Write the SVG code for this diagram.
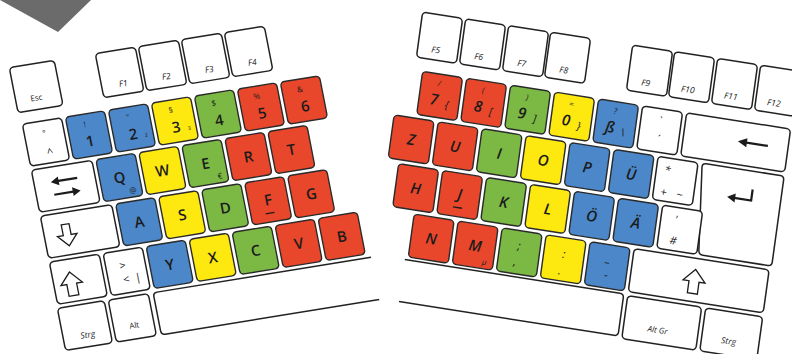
<svg xmlns="http://www.w3.org/2000/svg" width="792" height="354" viewBox="0 0 792 354">
<style>
.k{stroke:#2a2a2a;stroke-width:1.4}
.w{fill:#fff;stroke:#222;stroke-width:1.5}
.b{fill:#4b87c9}
.y{fill:#fde810}
.g{fill:#7cb944}
.r{fill:#e9472c}
text{font-family:"Open Sans","Liberation Sans",sans-serif;fill:#1b1b1b;text-anchor:middle}
.t{font-size:15px;font-weight:600}
.s{font-size:8px}
.m{font-size:11px}
.f{font-size:8.5px;font-style:italic}
.i text{font-style:italic}
.ar{fill:none;stroke:#1b1b1b;stroke-width:2.2}
.ah{fill:#1b1b1b}
.ho{fill:#fff;stroke:#1b1b1b;stroke-width:1.3;stroke-linejoin:miter}
.sp{fill:#fff;stroke:#222;stroke-width:1.5}
.ul{stroke:#1b1b1b;stroke-width:1.3}
</style>
<rect width="792" height="354" fill="#fff"/>
<polygon points="0,0 58,32 91,0" fill="#6b6b6b"/>

<g id="left" transform="matrix(0.977 -0.159 0.1915 0.979 20 122.5)">
 <g id="key-esc"><rect class="w" x="0" y="-56" width="46" height="46" rx="4"/><text class="s" x="21" y="-19">Esc</text></g>
 <g id="key-f1"><rect class="w" x="88" y="-56" width="41" height="45" rx="4"/><text class="f" x="110" y="-19">F1</text></g>
 <g id="key-f2"><rect class="w" x="132" y="-56" width="41" height="45" rx="4"/><text class="f" x="154" y="-19">F2</text></g>
 <g id="key-f3"><rect class="w" x="176" y="-56" width="41" height="45" rx="4"/><text class="f" x="198" y="-19">F3</text></g>
 <g id="key-f4"><rect class="w" x="220" y="-56" width="41" height="45" rx="4"/><text class="f" x="242" y="-19">F4</text></g>

 <g id="key-caret"><rect class="w" x="2" y="2" width="40" height="43" rx="4"/><text class="s" x="22" y="17">°</text><text class="m" x="24" y="38">^</text></g>
 <g id="key-1"><rect class="k b" x="46" y="2" width="40" height="43" rx="4"/><text class="s" x="64" y="15">!</text><text class="t" x="66" y="35">1</text></g>
 <g id="key-2"><rect class="k b" x="90" y="2" width="40" height="43" rx="4"/><text class="s" x="108" y="15">"</text><text class="t" x="110" y="35">2</text><text class="s" x="123" y="38">²</text></g>
 <g id="key-3"><rect class="k y" x="134" y="2" width="40" height="43" rx="4"/><text class="s" x="152" y="15">§</text><text class="t" x="154" y="35">3</text><text class="s" x="167" y="38">³</text></g>
 <g id="key-4"><rect class="k g" x="178" y="2" width="40" height="43" rx="4"/><text class="s" x="196" y="15">$</text><text class="t" x="198" y="35">4</text></g>
 <g id="key-5"><rect class="k r" x="222" y="2" width="40" height="43" rx="4"/><text class="s" x="240" y="15">%</text><text class="t" x="242" y="35">5</text></g>
 <g id="key-6"><rect class="k r" x="266" y="2" width="40" height="43" rx="4"/><text class="s" x="284" y="15">&amp;</text><text class="t" x="286" y="35">6</text></g>

 <g id="key-tab"><rect class="w" x="2" y="49" width="62" height="43" rx="4"/>
  <path class="ar" d="M46,64 H25"/><path class="ah" d="M19,64 L27,59.5 L27,68.5 Z"/>
  <path class="ar" d="M20,77 H41"/><path class="ah" d="M47,77 L39,72.5 L39,81.5 Z"/></g>
 <g id="key-q"><rect class="k b" x="68" y="49" width="40" height="43" rx="4"/><text class="t" x="88" y="76">Q</text><text class="s" x="99" y="88">@</text></g>
 <g id="key-w"><rect class="k y" x="112" y="49" width="40" height="43" rx="4"/><text class="t" x="132" y="76">W</text></g>
 <g id="key-e"><rect class="k g" x="156" y="49" width="40" height="43" rx="4"/><text class="t" x="176" y="76">E</text><text class="s" x="188" y="88">€</text></g>
 <g id="key-r"><rect class="k r" x="200" y="49" width="40" height="43" rx="4"/><text class="t" x="220" y="76">R</text></g>
 <g id="key-t"><rect class="k r" x="244" y="49" width="40" height="43" rx="4"/><text class="t" x="264" y="76">T</text></g>

 <g id="key-caps"><rect class="w" x="2" y="96" width="73" height="43" rx="4"/><path class="ho" d="M21,108 H29 V119 H35 L25,130 L15,119 H21 Z"/></g>
 <g id="key-a"><rect class="k b" x="79" y="96" width="40" height="43" rx="4"/><text class="t" x="99" y="123">A</text></g>
 <g id="key-s"><rect class="k y" x="123" y="96" width="40" height="43" rx="4"/><text class="t" x="143" y="123">S</text></g>
 <g id="key-d"><rect class="k g" x="167" y="96" width="40" height="43" rx="4"/><text class="t" x="187" y="123">D</text></g>
 <g id="key-f"><rect class="k r" x="211" y="96" width="40" height="43" rx="4"/><text class="t" x="231" y="122">F</text><path class="ul" d="M226,130 H235"/></g>
 <g id="key-g"><rect class="k r" x="255" y="96" width="40" height="43" rx="4"/><text class="t" x="275" y="123">G</text></g>

 <g id="key-lshift"><rect class="w" x="2" y="143" width="51" height="43" rx="4"/><path class="ho" d="M20,156 L31,168 H25 V180 H15 V168 H9 Z"/></g>
 <g id="key-lt"><rect class="w" x="57" y="143" width="40" height="43" rx="4"/><text class="m" x="74" y="162">&gt;</text><text class="m" x="75" y="176">&lt;</text><text class="m" x="87" y="176">|</text></g>
 <g id="key-y"><rect class="k b" x="101" y="143" width="40" height="43" rx="4"/><text class="t" x="121" y="170">Y</text></g>
 <g id="key-x"><rect class="k y" x="145" y="143" width="40" height="43" rx="4"/><text class="t" x="165" y="170">X</text></g>
 <g id="key-c"><rect class="k g" x="189" y="143" width="40" height="43" rx="4"/><text class="t" x="209" y="170">C</text></g>
 <g id="key-v"><rect class="k r" x="233" y="143" width="40" height="43" rx="4"/><text class="t" x="253" y="170">V</text></g>
 <g id="key-b"><rect class="k r" x="277" y="143" width="40" height="43" rx="4"/><text class="t" x="297" y="170">B</text></g>

 <g id="key-lstrg"><rect class="w" x="1" y="190" width="48" height="43" rx="4"/><text class="f" x="26" y="224">Strg</text></g>
 <g id="key-alt"><rect class="w" x="53" y="190" width="41" height="43" rx="4"/><text class="s" x="74" y="222">Alt</text></g>
 <g id="key-lspace"><path class="sp" d="M322,190 H103 Q99,190 99,194 V229 Q99,233 103,233 H322"/></g>
</g>

<g id="right" class="i" transform="matrix(1 0.157 -0.138 1 420.9 69)">
 <g id="key-f5"><rect class="w" x="-6" y="-56" width="40" height="45" rx="4"/><text class="f" x="12" y="-18">F5</text></g>
 <g id="key-f6"><rect class="w" x="37" y="-56" width="40" height="45" rx="4"/><text class="f" x="55" y="-18">F6</text></g>
 <g id="key-f7"><rect class="w" x="80" y="-56" width="40" height="45" rx="4"/><text class="f" x="98" y="-18">F7</text></g>
 <g id="key-f8"><rect class="w" x="122" y="-56" width="40" height="45" rx="4"/><text class="f" x="140" y="-18">F8</text></g>
 <g id="key-f9"><rect class="w" x="204" y="-56" width="40" height="45" rx="4"/><text class="f" x="222" y="-18">F9</text></g>
 <g id="key-f10"><rect class="w" x="246" y="-56" width="40" height="45" rx="4"/><text class="f" x="264" y="-18">F10</text></g>
 <g id="key-f11"><rect class="w" x="289" y="-56" width="40" height="45" rx="4"/><text class="f" x="307" y="-18">F11</text></g>
 <g id="key-f12"><rect class="w" x="332" y="-56" width="40" height="45" rx="4"/><text class="f" x="350" y="-18">F12</text></g>

 <g id="key-7"><rect class="k r" x="2" y="2" width="40" height="43" rx="4"/><text class="s" x="20" y="14">/</text><text class="t" x="17" y="33">7</text><text class="m" x="30" y="35">{</text></g>
 <g id="key-8"><rect class="k r" x="46" y="2" width="40" height="43" rx="4"/><text class="s" x="64" y="14">(</text><text class="t" x="61" y="33">8</text><text class="m" x="74" y="35">[</text></g>
 <g id="key-9"><rect class="k g" x="90" y="2" width="40" height="43" rx="4"/><text class="s" x="108" y="14">)</text><text class="t" x="105" y="33">9</text><text class="m" x="118" y="35">]</text></g>
 <g id="key-0"><rect class="k y" x="134" y="2" width="40" height="43" rx="4"/><text class="s" x="152" y="14">=</text><text class="t" x="149" y="33">0</text><text class="m" x="162" y="35">}</text></g>
 <g id="key-sz"><rect class="k b" x="178" y="2" width="40" height="43" rx="4"/><text class="s" x="196" y="14">?</text><text class="t" x="193" y="33">ß</text><text class="m" x="206" y="35">\</text></g>
 <g id="key-acute"><rect class="w" x="222" y="2" width="40" height="43" rx="4"/><text class="m" x="241" y="18">`</text><text class="m" x="240" y="36">´</text></g>
 <g id="key-bksp"><rect class="w" x="266" y="2" width="104" height="43" rx="4"/><path class="ar" d="M350,22 H327"/><path class="ah" d="M320,22 L329,17.5 L329,26.5 Z"/></g>

 <g id="key-z"><rect class="k r" x="-20" y="49" width="40" height="43" rx="4"/><text class="t" x="0" y="76">Z</text></g>
 <g id="key-u"><rect class="k r" x="24" y="49" width="40" height="43" rx="4"/><text class="t" x="44" y="76">U</text></g>
 <g id="key-i"><rect class="k g" x="68" y="49" width="40" height="43" rx="4"/><text class="t" x="88" y="76">I</text></g>
 <g id="key-o"><rect class="k y" x="112" y="49" width="40" height="43" rx="4"/><text class="t" x="132" y="76">O</text></g>
 <g id="key-p"><rect class="k b" x="156" y="49" width="40" height="43" rx="4"/><text class="t" x="176" y="76">P</text></g>
 <g id="key-ue"><rect class="k b" x="200" y="49" width="40" height="43" rx="4"/><text class="t" x="220" y="76">Ü</text></g>
 <g id="key-plus"><rect class="w" x="244" y="49" width="40" height="43" rx="4"/><text class="m" x="255" y="65">*</text><text class="m" x="254" y="87">+</text><text class="m" x="270" y="87">~</text></g>
 <g id="key-enter"><path class="w" d="M292,49 H366 Q370,49 370,53 V135 Q370,139 366,139 H301 Q297,139 296.6,135 L288.4,53 Q288,49 292,49 Z"/>
  <path class="ar" d="M341,67 V78 H324"/><path class="ah" d="M317,78 L325,73.5 L325,82.5 Z"/></g>

 <g id="key-h"><rect class="k r" x="-9" y="96" width="40" height="43" rx="4"/><text class="t" x="11" y="123">H</text></g>
 <g id="key-j"><rect class="k r" x="35" y="96" width="40" height="43" rx="4"/><text class="t" x="55" y="122">J</text><path class="ul" d="M50,130 H59"/></g>
 <g id="key-k"><rect class="k g" x="79" y="96" width="40" height="43" rx="4"/><text class="t" x="99" y="123">K</text></g>
 <g id="key-l"><rect class="k y" x="123" y="96" width="40" height="43" rx="4"/><text class="t" x="143" y="123">L</text></g>
 <g id="key-oe"><rect class="k b" x="167" y="96" width="40" height="43" rx="4"/><text class="t" x="187" y="123">Ö</text></g>
 <g id="key-ae"><rect class="k b" x="211" y="96" width="40" height="43" rx="4"/><text class="t" x="231" y="123">Ä</text></g>
 <g id="key-hash"><rect class="w" x="255" y="96" width="40" height="43" rx="4"/><text class="m" x="270" y="112">'</text><text class="m" x="270" y="133">#</text></g>

 <g id="key-n"><rect class="k r" x="13" y="143" width="40" height="43" rx="4"/><text class="t" x="33" y="170">N</text></g>
 <g id="key-m"><rect class="k r" x="57" y="143" width="40" height="43" rx="4"/><text class="t" x="77" y="170">M</text><text class="s" x="88" y="182">µ</text></g>
 <g id="key-comma"><rect class="k g" x="101" y="143" width="40" height="43" rx="4"/><text class="m" x="120" y="162">;</text><text class="m" x="118" y="178">,</text></g>
 <g id="key-period"><rect class="k y" x="145" y="143" width="40" height="43" rx="4"/><text class="m" x="165" y="163">:</text><text class="m" x="163" y="180">.</text></g>
 <g id="key-minus"><rect class="k b" x="189" y="143" width="40" height="43" rx="4"/><text class="m" x="209" y="160">_</text><text class="m" x="209" y="177">-</text></g>
 <g id="key-rshift"><rect class="w" x="233" y="143" width="135" height="43" rx="4"/><path class="ho" d="M296,154 L307,166 H301 V178 H291 V166 H285 Z"/></g>

 <g id="key-rspace"><path class="sp" d="M10,189 H225 Q229,189 229,193 V227 Q229,231 225,231 H10"/></g>
 <g id="key-altgr"><rect class="w" x="233" y="190" width="74" height="43" rx="4"/><text class="s" x="267" y="222">Alt Gr</text></g>
 <g id="key-rstrg"><rect class="w" x="311" y="190" width="57" height="43" rx="4"/><text class="f" x="338" y="222">Strg</text></g>
</g>
<g id="connectors"/>
</svg>
